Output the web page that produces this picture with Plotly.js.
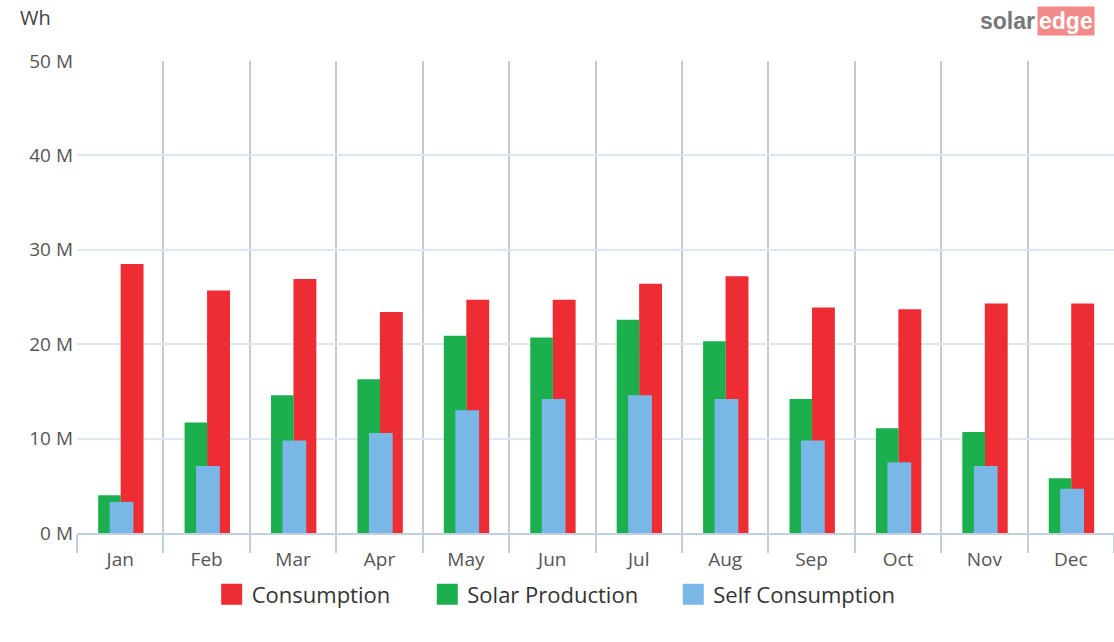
<!DOCTYPE html>
<html>
<head>
<meta charset="utf-8">
<script src="https://cdn.plot.ly/plotly-3.0.1.min.js"></script>
<style>html,body{margin:0;padding:0;background:#fff;}#chart{width:1114px;height:642px;}</style>
</head>
<body>
<div id="chart"></div>
<script>
const months = ["Jan","Feb","Mar","Apr","May","Jun","Jul","Aug","Sep","Oct","Nov","Dec"];
const consumption = [28.5e6,25.7e6,26.9e6,23.4e6,24.7e6,24.7e6,26.4e6,27.2e6,23.9e6,23.7e6,24.3e6,24.3e6];
const solarProduction = [4.0e6,11.7e6,14.6e6,16.3e6,20.9e6,20.7e6,22.6e6,20.3e6,14.2e6,11.1e6,10.7e6,5.8e6];
const selfConsumption = [3.3e6,7.1e6,9.8e6,10.6e6,13.0e6,14.2e6,14.6e6,14.2e6,9.8e6,7.5e6,7.1e6,4.7e6];
const yTickVals = [0,10e6,20e6,30e6,40e6,50e6];
const yTickText = ["0 M","10 M","20 M","30 M","40 M","50 M"];

const seriesNames = ["Consumption","Solar Production","Self Consumption"];
const seriesColors = ["#ee2c33","#1bb04d","#79b7e7"];
const legendIds = ["legend","legend2","legend3"];
const legendX = [0.1299,0.3378,0.575];

const FONT = "Open Sans, Noto Sans, DejaVu Sans, sans-serif";
const traces = [
  {type:"bar", name:seriesNames[0], x:months, y:consumption, offset:0.005, width:0.265,
   marker:{color:seriesColors[0], line:{width:0}}, showlegend:false},
  {type:"bar", name:seriesNames[1], x:months, y:solarProduction, offset:-0.255, width:0.262,
   marker:{color:seriesColors[1], line:{width:0}}, showlegend:false},
  {type:"bar", name:seriesNames[2], x:months, y:selfConsumption, offset:-0.122, width:0.275,
   marker:{color:seriesColors[2], line:{width:0}}, showlegend:false}
];
// legend-only entries (larger square swatches like the reference)
seriesNames.forEach((n,i)=>{
  traces.push({type:"scatter", mode:"markers", name:n, x:[null], y:[null], legend:legendIds[i],
    marker:{symbol:"square", size:16, color:seriesColors[i], line:{width:5, color:seriesColors[i]}},
    showlegend:true, hoverinfo:"skip"});
});

const layout = {
  width:1114, height:642,
  margin:{l:77, r:0, t:61, b:109},
  paper_bgcolor:"#fff", plot_bgcolor:"#fff",
  barmode:"overlay",
  font:{family:FONT, color:"#555"},
  showlegend:true,
  xaxis:{
    type:"category", range:[-0.5,11.5], tickson:"boundaries",
    showgrid:true, gridcolor:"#c9c9c9", gridwidth:2,
    showline:true, linecolor:"#c0d0e0", linewidth:2,
    ticks:"outside", ticklen:18, tickcolor:"#c0d0e0", tickwidth:2,
    ticklabelstandoff:8,
    tickfont:{size:19, color:"#555", family:FONT},
    fixedrange:true, zeroline:false
  },
  yaxis:{
    range:[0,50e6], tickvals:yTickVals, ticktext:yTickText,
    showgrid:true, gridcolor:"#dde8f3", gridwidth:2,
    showline:false, zeroline:false, ticks:"", ticklabelstandoff:3,
    tickfont:{size:19, color:"#555", family:FONT},
    title:{text:""}, fixedrange:true
  },
  annotations:[
    {xref:"paper", yref:"paper", x:-0.0569, y:1.0924, xanchor:"left", yanchor:"middle",
     text:"Wh", showarrow:false, font:{size:20, color:"#444", family:FONT}},
    {xref:"paper", yref:"paper", x:0.9257, y:1.0837, xanchor:"right", yanchor:"middle",
     text:"<b>solar</b>", showarrow:false, font:{size:23, color:"#777", family:"Liberation Sans, Arial, sans-serif"}},
    {xref:"paper", yref:"paper", x:0.9257, y:1.0837, xanchor:"left", yanchor:"middle",
     text:"<b>edge</b>", showarrow:false, bgcolor:"#f28a8a", borderpad:1,
     font:{size:23, color:"#fff", family:"Liberation Sans, Arial, sans-serif"}}
  ]
};
legendIds.forEach((id,i)=>{
  layout[id] = {orientation:"h", x:legendX[i], xanchor:"left", y:-0.1303, yanchor:"middle",
    font:{size:22, color:"#333", family:FONT}, bgcolor:"rgba(0,0,0,0)", borderwidth:0};
});

Plotly.newPlot("chart", traces, layout, {displayModeBar:false, staticPlot:true});
</script>
</body>
</html>
